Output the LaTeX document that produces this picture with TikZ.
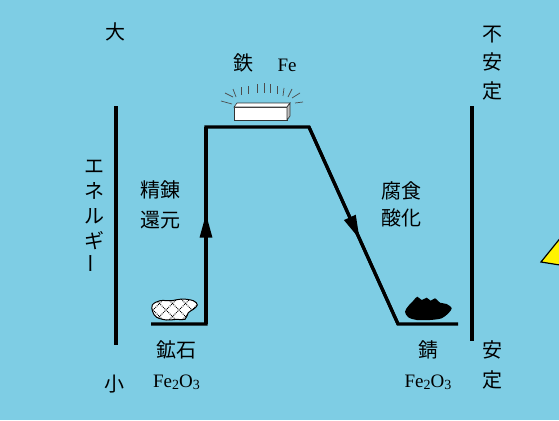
\documentclass[tikz,border=0pt]{standalone}
\usepackage{fontspec}
\setmainfont{Liberation Serif}
\newfontfamily\jp{Noto Sans CJK JP}
\usetikzlibrary{arrows.meta,decorations.markings}

\definecolor{skyback}{RGB}{126,205,228}

% iron oxide formula with lowered indices
\newcommand{\ironoxide}{Fe\raisebox{-0.3ex}{\fontsize{14}{14}\selectfont 2}O\raisebox{-0.3ex}{\fontsize{14}{14}\selectfont 3}}

\begin{document}
\begin{tikzpicture}[x=1pt, y=-1pt,
    jplabel/.style={font=\jp\fontsize{20}{30}\selectfont, align=center, inner sep=0pt},
    chem/.style={font=\fontsize{19}{22}\selectfont, inner sep=0pt, anchor=base},
    level/.style={line width=3.2pt, line join=miter},
    scalebar/.style={line width=4.2pt},
    midarrow/.style={postaction={decorate}, decoration={markings,
        mark=at position #1 with {\arrow{Triangle[length=24pt,width=12pt]}}}}]

    % background
    \fill[skyback] (0,0) rectangle (559,420);
    \clip (0,0) rectangle (559,420);

    % scale bars left and right
    \draw[scalebar] (116,106) -- (116,345);
    \draw[scalebar] (472,106) -- (472,341);

    % energy levels: ore -> iron -> rust
    \coordinate (ore-l) at (151,324);
    \coordinate (ore-r) at (206,324);
    \coordinate (iron-l) at (206,127);
    \coordinate (iron-r) at (309,127);
    \coordinate (rust-l) at (398,324);
    \coordinate (rust-r) at (458,324);
    \draw[level] (ore-l) -- (ore-r) -- (iron-l) -- (iron-r) -- (rust-l) -- (rust-r);
    \draw[level, midarrow=0.56] (ore-r) -- (iron-l);
    \draw[level, midarrow=0.57] (iron-r) -- (rust-l);

    % shining iron bar
    \foreach \xa/\ya/\xb/\yb in {221/101/232/104, 225/93/233/97, 233/89/236/97,
        241/87/241/95, 248/86/248/94, 257/84/257/93, 264/83/264/93, 270/84/270/93,
        277/86/277/94, 284/88/283/96, 292/89/288/97, 300/93/292/98, 303/102/295/103}
        \draw[black!70, line width=0.7pt] (\xa,\ya) -- (\xb,\yb);
    \filldraw[fill=white, draw=black!80, line width=0.6pt] (234,107) rectangle (287,120);
    \filldraw[fill=white, draw=black!80, line width=0.6pt] (234,107) -- (237,103) -- (290,103) -- (287,107) -- cycle;
    \filldraw[fill=black!25, draw=black!80, line width=0.6pt] (287,107) -- (290,103) -- (290,116) -- (287,120) -- cycle;

    % ore lump with hatching
    \filldraw[fill=white, draw=black, line width=1pt] plot[smooth cycle, tension=0.6] coordinates {
        (152.3,305) (160,300.7) (171.7,300.7) (181.7,299) (193.3,300.7) (197.3,305)
        (193.3,309.3) (188.3,312.7) (185,319.3) (176.7,319.3) (166.7,320) (156.7,317.3) (152.7,311.7)};
    \begin{scope}
        \clip plot[smooth cycle, tension=0.6] coordinates {
            (152.3,305) (160,300.7) (171.7,300.7) (181.7,299) (193.3,300.7) (197.3,305)
            (193.3,309.3) (188.3,312.7) (185,319.3) (176.7,319.3) (166.7,320) (156.7,317.3) (152.7,311.7)};
        \foreach \d in {125,138,...,203} {
            \draw[densely dotted, line width=0.9pt] (\d,325) -- (\d+30,295);
            \draw[densely dotted, line width=0.9pt] (\d,295) -- (\d+30,325);
        }
    \end{scope}

    % rust lump
    \fill[black] plot[smooth cycle, tension=0.5] coordinates {
        (405,311.7) (408.3,306) (413.3,300.7) (417.3,296.7) (421.7,300) (426.7,297.7)
        (430.7,300.7) (435,298.3) (440,302.7) (446.7,304) (451.7,308.3) (448.3,313.3)
        (441.7,318.3) (430,320) (416.7,320) (408.3,317.3)};

    % labels
    \node[jplabel] (big) at (115,32) {大};
    \node[jplabel] (small) at (114,384) {小};
    \node[jplabel, font=\jp\fontsize{20}{25}\selectfont] (energy) at (94,217)
        {エ\\ネ\\ル\\ギ\\\rotatebox{90}{ー}};
    \node[jplabel, font=\jp\fontsize{20}{28.5}\selectfont] (unstable) at (492,63) {不\\安\\定};
    \node[jplabel] (stable) at (492,365) {安\\定};
    \node[jplabel] (refine) at (160,205) {精錬\\還元};
    \node[jplabel, font=\jp\fontsize{20}{27}\selectfont] (corrode) at (401,204) {腐食\\酸化};
    \node[jplabel] (iron) at (243,63) {鉄};
    \node[chem] (iron-fe) at (287,71) {Fe};
    \node[jplabel] (ore) at (176,350) {鉱石};
    \node[chem] (ore-fe) at (176.5,387) {\ironoxide};
    \node[jplabel] (rust) at (428,350) {錆};
    \node[chem] (rust-fe) at (428,387) {\ironoxide};

    % corner of a pointer at the right edge
    \filldraw[fill=yellow, draw=black, line width=1.2pt] (541,262) -- (566,231) -- (566,266) -- cycle;
\end{tikzpicture}
\end{document}
